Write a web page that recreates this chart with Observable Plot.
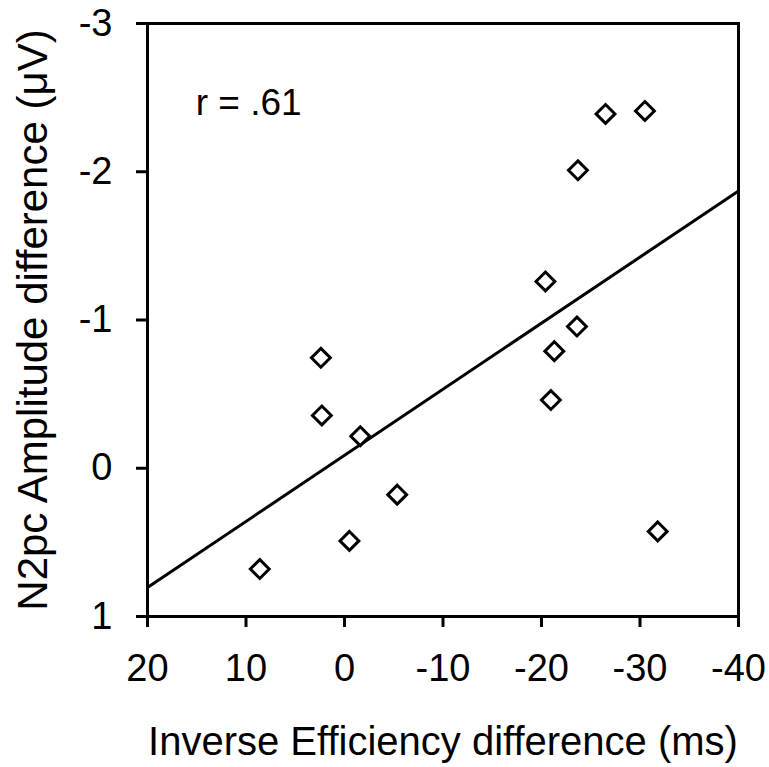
<!DOCTYPE html>
<html>
<head>
<meta charset="utf-8">
<script src="https://cdn.jsdelivr.net/npm/d3@7"></script>
<script src="https://cdn.jsdelivr.net/npm/@observablehq/plot@0.6"></script>
<style>
  html, body { margin: 0; padding: 0; background: #fff; }
</style>
</head>
<body>
<div id="chart"></div>
<script>
// Data
const ieDiff   = [8.6, 2.4, 2.3, -1.6, -0.5, -5.35, -20.4, -21.3, -20.95, -23.6, -23.7, -26.5, -30.5, -31.8];
const n2pcDiff = [0.68, -0.745, -0.356, -0.216, 0.49, 0.178, -1.26, -0.79, -0.46, -0.956, -2.01, -2.39, -2.41, 0.426];
const xTicks = [20, 10, 0, -10, -20, -30, -40];
const yTicks = [1, 0, -1, -2, -3];
const xDomain = [20, -40];
const yDomain = [1, -3];
const xTitle = "Inverse Efficiency difference (ms)";
const yTitle = "N2pc Amplitude difference (μV)";
const annText = ["r = .61"];
const annX = [15.1];
const annY = [-2.38];

const points = ieDiff.map((x, i) => ({x, y: n2pcDiff[i]}));

// least-squares fit computed from the data, drawn across the full x domain
const mx = d3.mean(ieDiff), my = d3.mean(n2pcDiff);
const sxy = d3.sum(points, d => (d.x - mx) * (d.y - my));
const sxx = d3.sum(points, d => (d.x - mx) ** 2);
const slope = sxy / sxx, intercept = my - slope * mx;
const fitLine = xDomain.map(x => ({x, y: intercept + slope * x}));

const annotations = annText.map((t, i) => ({t, x: annX[i], y: annY[i]}));

const chart = Plot.plot({
  width: 769,
  height: 767,
  marginLeft: 147,
  marginRight: 31,
  marginTop: 23,
  marginBottom: 151,
  style: {
    fontFamily: "'Liberation Sans', Arial, sans-serif",
    fontSize: "38px",
    color: "black",
    background: "white"
  },
  x: {domain: xDomain, label: null},
  y: {domain: yDomain, label: null},
  marks: [
    Plot.axisX({ticks: xTicks, tickFormat: d => String(d), tickSize: 11, tickPadding: 27,
                fontSize: 38, strokeWidth: 3, label: null}),
    Plot.axisY({ticks: yTicks, tickFormat: d => String(d), tickSize: 11, tickPadding: 24,
                fontSize: 38, strokeWidth: 3, label: null}),
    Plot.line(fitLine, {x: "x", y: "y", stroke: "black", strokeWidth: 3}),
    Plot.dot(points, {x: "x", y: "y", symbol: "diamond2", r: 8.5, stroke: "black",
                      strokeWidth: 3, fill: "white", strokeLinejoin: "miter"}),
    Plot.text(annotations, {x: "x", y: "y", text: "t", textAnchor: "start",
                            lineAnchor: "bottom", fontSize: 37, fill: "black"}),
    Plot.frame({stroke: "black", strokeWidth: 3}),
    Plot.text([xTitle], {frameAnchor: "bottom", textAnchor: "middle", lineAnchor: "middle",
                         dy: 126, fontSize: 40, fill: "black"}),
    Plot.text([yTitle], {frameAnchor: "left", textAnchor: "middle", lineAnchor: "middle",
                         rotate: -90, dx: -114, fontSize: 42, fill: "black"})
  ]
});

document.getElementById("chart").appendChild(chart);
</script>
</body>
</html>
